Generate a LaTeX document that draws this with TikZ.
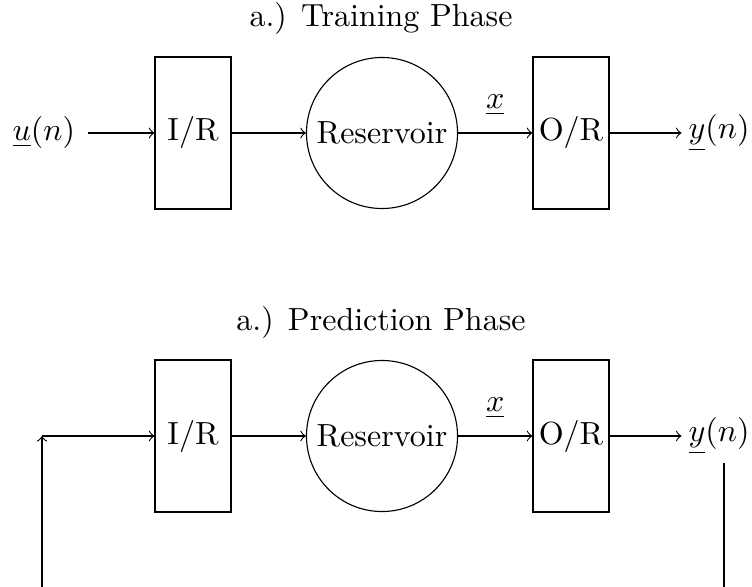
\documentclass[tikz,border=0pt]{standalone}
\begin{document}
\begin{tikzpicture}[x=0.3125pt,y=-0.3125pt,>=to,line width=0.35pt,
  box/.style={draw,minimum width=23.75pt,minimum height=47.5pt,inner sep=0pt},
  circ/.style={draw,circle,minimum size=47.2pt,inner sep=0pt},
  lbl/.style={inner sep=0pt}]
\useasboundingbox (0,0) rectangle (752,586);
% Training phase
\node (t1) at (381,19) {a.) Training Phase};
\node[box] (ir1) at (193,133) {I/R};
\node[circ] (res1) at (382,133) {Reservoir};
\node[box] (or1) at (571,133) {O/R};
\node[lbl,anchor=west] (u1) at (12,133) {$\underline{u}(n)$};
\node[lbl,anchor=east] (y1) at (750,133) {$\underline{y}(n)$};
\draw[->] (u1.east) ++(4pt,0) -- (ir1);
\draw[->] (ir1) -- (res1);
\draw[->] (res1) -- node[above,yshift=2pt] {$\underline{x}$} (or1);
\draw[->] (or1) -- ([xshift=-2pt]y1.west);
% Prediction phase
\node (t2) at (381,322) {a.) Prediction Phase};
\node[box] (ir2) at (193,436) {I/R};
\node[circ] (res2) at (382,436) {Reservoir};
\node[box] (or2) at (571,436) {O/R};
\node[lbl,anchor=east] (y2) at (750,436) {$\underline{y}(n)$};
\coordinate (fbL) at (42,436);
\coordinate (fbR) at (724,463);
\coordinate (fbB) at (0,620);
\draw[->] (fbL) -- (ir2);
\draw[->] (ir2) -- (res2);
\draw[->] (res2) -- node[above,yshift=2pt] {$\underline{x}$} (or2);
\draw[->] (or2) -- ([xshift=-2pt]y2.west);
\begin{scope}
\clip (0,0) rectangle (752,586);
\draw[->] (fbR) -- (fbR |- fbB) -| (fbL);
\end{scope}
\end{tikzpicture}
\end{document}
